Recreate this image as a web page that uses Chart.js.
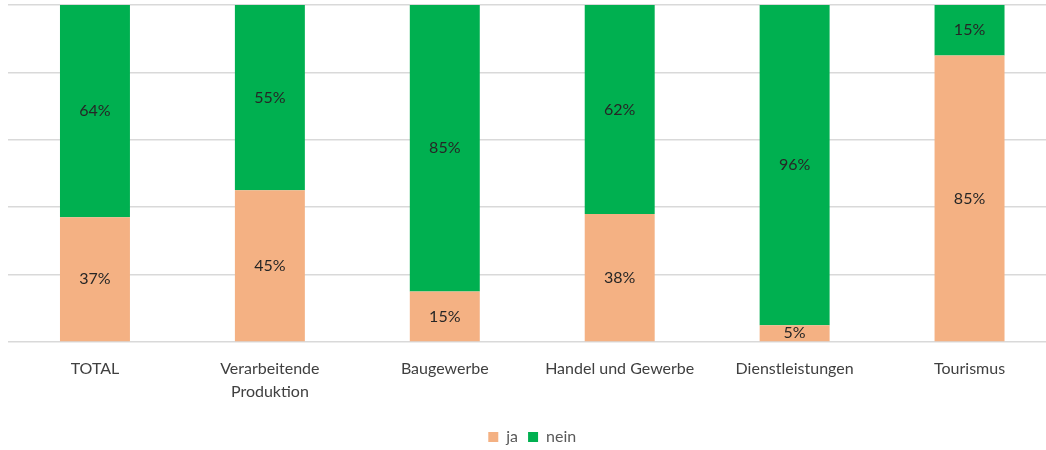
<!DOCTYPE html>
<html>
<head>
<meta charset="utf-8">
<script src="https://cdn.jsdelivr.net/npm/chart.js@4"></script>
<style>
  html, body { margin: 0; padding: 0; background: #fff; overflow: hidden; }
  #wrap { width: 1060px; height: 450px; }
</style>
</head>
<body>
<div id="wrap"><canvas id="c" width="1060" height="450"></canvas></div>
<script>
const categories = ['TOTAL', ['Verarbeitende', 'Produktion'], 'Baugewerbe', 'Handel und Gewerbe', 'Dienstleistungen', 'Tourismus'];
const ja = [37, 45, 15, 38, 5, 85];
const nein = [64, 55, 85, 62, 96, 15];
const yTicks = [0, 20, 40, 60, 80, 100];

const FONT = 'Lato, "Open Sans", sans-serif';

const barLabels = {
  id: 'barLabels',
  afterDatasetsDraw(chart) {
    const ctx = chart.ctx;
    const area = chart.chartArea;
    ctx.save();
    ctx.font = '16px ' + FONT;
    ctx.fillStyle = '#262626';
    ctx.textAlign = 'center';
    ctx.textBaseline = 'middle';
    chart.data.datasets.forEach((ds, i) => {
      const meta = chart.getDatasetMeta(i);
      meta.data.forEach((el, j) => {
        const top = Math.max(Math.min(el.y, el.base), area.top);
        const bot = Math.min(Math.max(el.y, el.base), area.bottom);
        ctx.fillText(ds.data[j] + '%', el.x, (top + bot) / 2);
      });
    });
    ctx.restore();
  }
};

new Chart(document.getElementById('c'), {
  type: 'bar',
  data: {
    labels: categories,
    datasets: [
      { label: 'ja', data: ja, backgroundColor: '#F4B183', clip: 0 },
      { label: 'nein', data: nein, backgroundColor: '#00B050', clip: 0 }
    ]
  },
  options: {
    responsive: false,
    animation: false,
    devicePixelRatio: 1,
    barPercentage: 0.4,
    categoryPercentage: 1,
    layout: { padding: { left: 7.5, right: 3, top: 5, bottom: -5 } },
    scales: {
      x: {
        stacked: true,
        grid: { display: false },
        border: { display: false },
        ticks: {
          color: '#404040',
          font: { family: FONT, size: 16, lineHeight: 1.4 },
          padding: 8,
          maxRotation: 0,
          autoSkip: false
        },
        afterFit(scale) { scale.height = 77; }
      },
      y: {
        stacked: true,
        min: 0,
        max: 100,
        afterBuildTicks(scale) { scale.ticks = yTicks.map(v => ({ value: v })); },
        grid: { color: '#D9D9D9', lineWidth: 1.5, drawTicks: false },
        border: { display: false },
        ticks: { display: false }
      }
    },
    plugins: {
      legend: {
        position: 'bottom',
        labels: {
          boxWidth: 10,
          boxHeight: 10,
          color: '#595959',
          font: { family: FONT, size: 16 },
          padding: 10
        }
      },
      tooltip: { enabled: false }
    }
  },
  plugins: [barLabels]
});
</script>
</body>
</html>
